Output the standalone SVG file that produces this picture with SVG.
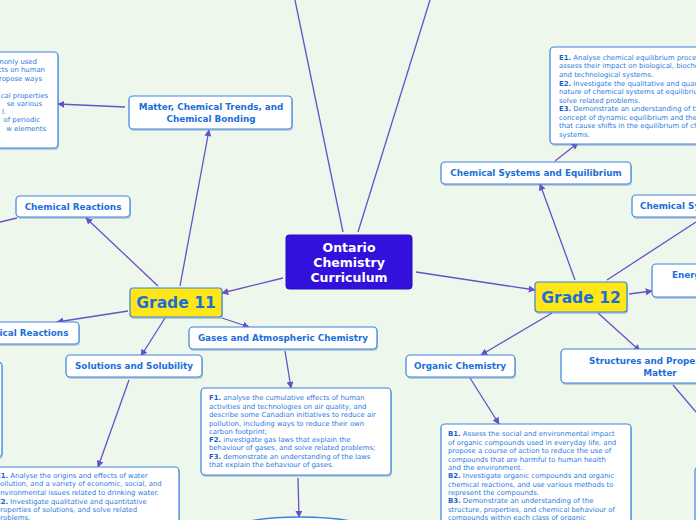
<svg xmlns="http://www.w3.org/2000/svg" width="696" height="520" viewBox="0 0 696 520">
<defs>
<marker id="ah" viewBox="0 0 10 10" refX="9" refY="5" markerWidth="7" markerHeight="7" markerUnits="userSpaceOnUse" orient="auto">
<path d="M0,0 L10,5 L0,10 z" fill="#6a4fc8"/>
</marker>
<style>
.bg{fill:#eef7eb}
.conn line{stroke:#6a4fc8;stroke-width:1.3;fill:none}
.a{marker-end:url(#ah)}
.box{fill:#ffffff;stroke:#3b82e0;stroke-width:1.2}
.sh{fill:#5b7fb0;opacity:0.35}
.t{font-family:"DejaVu Sans",Verdana,sans-serif;font-weight:bold;font-size:8.8px;fill:#1a6fd8;text-anchor:middle}
.s{font-family:"DejaVu Sans",Verdana,sans-serif;font-size:6.9px;fill:#2a7ae0}
.s tspan.b{font-weight:bold;fill:#1a5fc8}
.g{font-family:"DejaVu Sans",Verdana,sans-serif;font-weight:bold;font-size:15.5px;fill:#1a6fd8;text-anchor:middle}
.c{font-family:"DejaVu Sans",Verdana,sans-serif;font-weight:bold;font-size:12.5px;fill:#ffffff;text-anchor:middle}
.e{text-anchor:end}
.st{text-anchor:start}
</style>
</defs>
<rect class="bg" x="0" y="0" width="696" height="520"/>

<g id="connectors" class="conn">
<line x1="343" y1="232" x2="295" y2="0"/>
<line x1="358" y1="232" x2="430" y2="0"/>
<line class="a" x1="283" y1="278" x2="222" y2="293"/>
<line class="a" x1="416" y1="272" x2="535" y2="290"/>
<line class="a" x1="180" y1="286" x2="209" y2="130"/>
<line class="a" x1="158" y1="286" x2="86" y2="218"/>
<line class="a" x1="128" y1="311" x2="57" y2="322"/>
<line class="a" x1="165" y1="318" x2="141" y2="356"/>
<line class="a" x1="222" y1="318" x2="249" y2="327"/>
<line class="a" x1="125" y1="107" x2="58" y2="104"/>
<line x1="17" y1="218" x2="0" y2="222"/>
<line class="a" x1="129" y1="380" x2="98" y2="467"/>
<line class="a" x1="285" y1="351" x2="291" y2="388"/>
<line class="a" x1="298" y1="478" x2="299" y2="517"/>
<line class="a" x1="575" y1="280" x2="540" y2="184"/>
<line x1="607" y1="280" x2="696" y2="222"/>
<line class="a" x1="629" y1="294" x2="652" y2="291"/>
<line class="a" x1="552" y1="313" x2="481" y2="355"/>
<line class="a" x1="598" y1="313" x2="640" y2="351"/>
<line class="a" x1="555" y1="161" x2="578" y2="143"/>
<line class="a" x1="470" y1="378" x2="499" y2="424"/>
<line x1="673" y1="385" x2="696" y2="412"/>
</g>

<g id="center">
<rect x="286" y="235" width="126" height="54" rx="3" fill="#3311dd" stroke="#2a0fc0" stroke-width="1"/>
<text class="c" x="349" y="252">Ontario</text>
<text class="c" x="349" y="267">Chemistry</text>
<text class="c" x="349" y="282">Curriculum</text>
</g>

<g id="grade11">
<rect class="sh" x="131" y="290" width="92" height="29" rx="3"/>
<rect x="130" y="288" width="92" height="29" rx="3" fill="#ffe617" stroke="#3b82e0" stroke-width="1.2"/>
<text class="g" x="176" y="308">Grade 11</text>
</g>

<g id="grade12">
<rect class="sh" x="536" y="284" width="92" height="30" rx="3"/>
<rect x="535" y="282" width="92" height="30" rx="3" fill="#ffe617" stroke="#3b82e0" stroke-width="1.2"/>
<text class="g" x="581" y="303">Grade 12</text>
</g>

<g id="matter">
<rect class="sh" x="130" y="98" width="163" height="33" rx="4"/>
<rect class="box" x="129" y="96" width="163" height="33" rx="4"/>
<text class="t" x="211" y="110">Matter, Chemical Trends, and</text>
<text class="t" x="211" y="122">Chemical Bonding</text>
</g>

<g id="matter-details">
<rect class="sh" x="-60" y="54" width="119" height="96" rx="4"/>
<rect class="box" x="-61" y="52" width="119" height="96" rx="4"/>
<text class="s e" x="37" y="64">monly used</text>
<text class="s e" x="45" y="72">cts on human</text>
<text class="s e" x="42" y="81">ropose ways</text>
<text class="s e" x="48" y="98">cal properties</text>
<text class="s e" x="42" y="106">se various</text>
<text class="s e" x="6" y="114">l.</text>
<text class="s e" x="40" y="122">of periodic</text>
<text class="s e" x="46" y="131">w elements</text>
</g>

<g id="chem-reactions-a">
<rect class="sh" x="17" y="198" width="114" height="21" rx="4"/>
<rect class="box" x="16" y="196" width="114" height="21" rx="4"/>
<text class="t" x="73" y="210">Chemical Reactions</text>
</g>

<g id="chem-reactions-b">
<rect class="sh" x="-39" y="324" width="119" height="22" rx="4"/>
<rect class="box" x="-40" y="322" width="119" height="22" rx="4"/>
<text class="t" x="20" y="336">Chemical Reactions</text>
</g>

<g id="left-details">
<rect class="sh" x="-99" y="364" width="102" height="95" rx="4"/>
<rect class="box" x="-100" y="362" width="102" height="95" rx="4"/>
</g>

<g id="solutions">
<rect class="sh" x="67" y="357" width="136" height="22" rx="4"/>
<rect class="box" x="66" y="355" width="136" height="22" rx="4"/>
<text class="t" x="134" y="369">Solutions and Solubility</text>
</g>

<g id="solutions-details">
<rect class="sh" x="-19" y="469" width="199" height="70" rx="4"/>
<rect class="box" x="-20" y="467" width="199" height="70" rx="4"/>
<text class="s" x="-4" y="478"><tspan class="b">E1.</tspan> Analyse the origins and effects of water</text>
<text class="s" x="-4" y="486">pollution, and a variety of economic, social, and</text>
<text class="s" x="-4" y="495">environmental issues related to drinking water.</text>
<text class="s" x="-4" y="504"><tspan class="b">E2.</tspan> Investigate qualitative and quantitative</text>
<text class="s" x="-4" y="512">properties of solutions, and solve related</text>
<text class="s" x="-4" y="520">problems.</text>
</g>

<g id="gases">
<rect class="sh" x="190" y="329" width="188" height="22" rx="4"/>
<rect class="box" x="189" y="327" width="188" height="22" rx="4"/>
<text class="t" x="283" y="341">Gases and Atmospheric Chemistry</text>
</g>

<g id="gases-details">
<rect class="sh" x="202" y="390" width="190" height="87" rx="4"/>
<rect class="box" x="201" y="388" width="190" height="87" rx="4"/>
<text class="s" x="209" y="400"><tspan class="b">F1.</tspan> analyse the cumulative effects of human</text>
<text class="s" x="209" y="409">activities and technologies on air quality, and</text>
<text class="s" x="209" y="417">describe some Canadian initiatives to reduce air</text>
<text class="s" x="209" y="426">pollution, including ways to reduce their own</text>
<text class="s" x="209" y="434">carbon footprint;</text>
<text class="s" x="209" y="442"><tspan class="b">F2.</tspan> investigate gas laws that explain the</text>
<text class="s" x="209" y="450">behaviour of gases, and solve related problems;</text>
<text class="s" x="209" y="459"><tspan class="b">F3.</tspan> demonstrate an understanding of the laws</text>
<text class="s" x="209" y="467">that explain the behaviour of gases.</text>
</g>

<g id="bottom-node">
<ellipse cx="300" cy="560" rx="120" ry="43" fill="#ffffff" stroke="#3b82e0" stroke-width="1.4"/>
</g>

<g id="chem-systems">
<rect class="sh" x="442" y="164" width="190" height="22" rx="4"/>
<rect class="box" x="441" y="162" width="190" height="22" rx="4"/>
<text class="t" x="536" y="176">Chemical Systems and Equilibrium</text>
</g>

<g id="chem-systems-details">
<rect class="sh" x="551" y="49" width="200" height="97" rx="4"/>
<rect class="box" x="550" y="47" width="200" height="97" rx="4"/>
<text class="s" x="559" y="60"><tspan class="b">E1.</tspan> Analyse chemical equilibrium processes and</text>
<text class="s" x="559" y="68">assess their impact on biological, biochemical,</text>
<text class="s" x="559" y="77">and technological systems.</text>
<text class="s" x="559" y="86"><tspan class="b">E2.</tspan> Investigate the qualitative and quantitative</text>
<text class="s" x="559" y="94">nature of chemical systems at equilibrium, and</text>
<text class="s" x="559" y="103">solve related problems.</text>
<text class="s" x="559" y="111"><tspan class="b">E3.</tspan> Demonstrate an understanding of the</text>
<text class="s" x="559" y="120">concept of dynamic equilibrium and the factors</text>
<text class="s" x="559" y="128">that cause shifts in the equilibrium of chemical</text>
<text class="s" x="559" y="137">systems.</text>
</g>

<g id="chem-structures">
<rect class="sh" x="633" y="197" width="120" height="22" rx="4"/>
<rect class="box" x="632" y="195" width="120" height="22" rx="4"/>
<text class="t st" x="640" y="209">Chemical Systems</text>
</g>

<g id="energy">
<rect class="sh" x="653" y="266" width="120" height="33" rx="4"/>
<rect class="box" x="652" y="264" width="120" height="33" rx="4"/>
<text class="t st" x="672" y="278">Energy Changes and</text>
</g>

<g id="organic">
<rect class="sh" x="407" y="357" width="109" height="22" rx="4"/>
<rect class="box" x="406" y="355" width="109" height="22" rx="4"/>
<text class="t" x="460" y="369">Organic Chemistry</text>
</g>

<g id="organic-details">
<rect class="sh" x="442" y="426" width="190" height="110" rx="4"/>
<rect class="box" x="441" y="424" width="190" height="110" rx="4"/>
<text class="s" x="448" y="436"><tspan class="b">B1.</tspan> Assess the social and environmental impact</text>
<text class="s" x="448" y="445">of organic compounds used in everyday life, and</text>
<text class="s" x="448" y="453">propose a course of action to reduce the use of</text>
<text class="s" x="448" y="462">compounds that are harmful to human health</text>
<text class="s" x="448" y="470">and the environment.</text>
<text class="s" x="448" y="478"><tspan class="b">B2.</tspan> Investigate organic compounds and organic</text>
<text class="s" x="448" y="487">chemical reactions, and use various methods to</text>
<text class="s" x="448" y="495">represent the compounds.</text>
<text class="s" x="448" y="503"><tspan class="b">B3.</tspan> Demonstrate an understanding of the</text>
<text class="s" x="448" y="512">structure, properties, and chemical behaviour of</text>
<text class="s" x="448" y="520">compounds within each class of organic</text>
</g>

<g id="structures">
<rect class="sh" x="562" y="351" width="198" height="34" rx="4"/>
<rect class="box" x="561" y="349" width="198" height="34" rx="4"/>
<text class="t" x="660" y="364">Structures and Properties of</text>
<text class="t" x="660" y="376">Matter</text>
</g>

<g id="structures-details">
<rect class="box" x="695" y="467" width="100" height="100" rx="4"/>
</g>
</svg>
